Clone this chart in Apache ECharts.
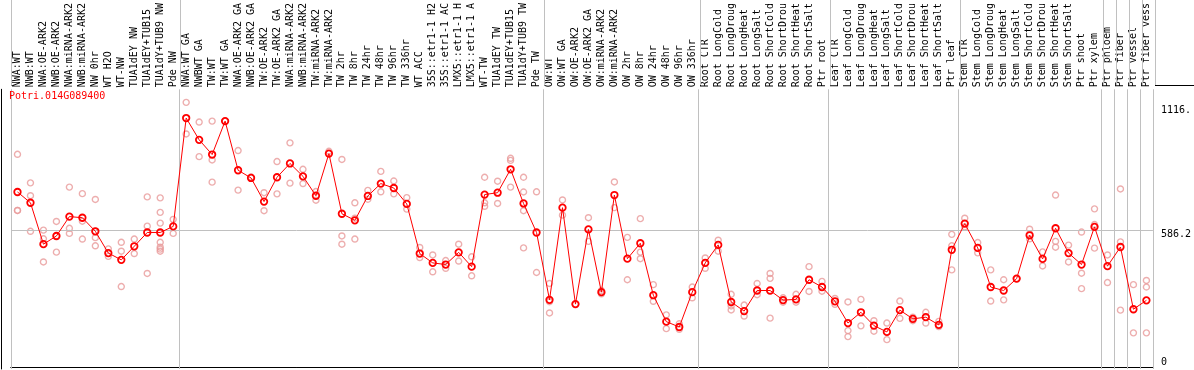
<!DOCTYPE html>
<html><head><meta charset="utf-8">
<script src="https://cdn.jsdelivr.net/npm/echarts@6/dist/echarts.min.js"></script>
<style>html,body{margin:0;padding:0;background:#fff}#c{width:1194px;height:370px}</style>
</head><body><div id="c"></div>
<script>
const geneName = 'Potri.014G089400';
const categories = [
 'NWA:WT','NWB:WT','NWA:OE-ARK2','NWB:OE-ARK2','NWA:miRNA-ARK2','NWB:miRNA-ARK2','NW 0hr','WT H2O','WT-NW','TUA1dEY NW','TUA1dEY+TUB15','TUA1dY+TUB9 NW','Pde NW',
 'NWA:WT GA','NWBWT GA','TW:WT','TW:WT GA','NWA:OE-ARK2 GA','NWB:OE-ARK2 GA','TW:OE-ARK2','TW:OE-ARK2 GA','NWA:miRNA-ARK2','NWB:miRNA-ARK2','TW:miRNA-ARK2','TW:miRNA-ARK2',
 'TW 2hr','TW 8hr','TW 24hr','TW 48hr','TW 96hr','TW 336hr','WT ACC','35S::etr1-1 H2','35S::etr1-1 AC','LMX5::etr1-1 H','LMX5::etr1-1 A','WT-TW','TUA1dEY TW','TUA1dEY+TUB15','TUA1dY+TUB9 TW','Pde TW',
 'OW:WT','OW:WT GA','OW:OE-ARK2','OW:OE-ARK2 GA','OW:miRNA-ARK2','OW:miRNA-ARK2','OW 2hr','OW 8hr','OW 24hr','OW 48hr','OW 96hr','OW 336hr',
 'Root CTR','Root LongCold','Root LongDroug','Root LongHeat','Root LongSalt','Root ShortCold','Root ShortDrou','Root ShortHeat','Root ShortSalt','Ptr root',
 'Leaf CTR','Leaf LongCold','Leaf LongDroug','Leaf LongHeat','Leaf LongSalt','Leaf ShortCold','Leaf ShortDrou','Leaf ShortHeat','Leaf ShortSalt','Ptr leaf',
 'Stem CTR','Stem LongCold','Stem LongDroug','Stem LongHeat','Stem LongSalt','Stem ShortCold','Stem ShortDrou','Stem ShortHeat','Stem ShortSalt','Ptr shoot','Ptr xylem',
 'Ptr phloem','Ptr fiber','Ptr vessel','Ptr fiber vess'
];
const meanValues = [
 748,702,525,560,643,638,580,487,458,516,575,575,601,
 1064,971,908,1051,841,808,707,811,870,815,732,912,655,627,731,784,765,697,485,445,438,490,429,737,745,845,699,575,
 287,681,269,588,320,735,463,529,307,194,171,320,
 445,522,278,239,327,327,286,289,373,342,
 281,188,234,177,150,243,206,213,180,501,
 613,509,342,327,378,563,462,593,487,438,599,
 431,513,247,285
];
const replicateValues = [
 [909,669,669],[787,732,580],[585,548,449],[622,491,560],[769,593,571],[741,623,547],[716,553,518,580],[505,473],[533,495,344],[547,485],[727,602,400],[723,661,615,533,512,504,495],[631,571],
 [1131,996],[1047,899],[1051,885,790],[1051],[925,756],[812],[745,668],[878,740],[958,786],[845,784],[750,713],[922],[887,560,525],[702,636,547],[755,717],[836,749],[795,740],[724,675],[511,468],[479,407],[455,422],[525,453],[471,390],[811,702,687],[794,699],[892,883,769],[811,748,668,509],[749,404],
 [357,279,231],[714,649],[269],[638,537],[327,313],[791,681],[554,373],[634,491,463],[352,281],[223,164],[185,161],[342,296],
 [466,422],[542,495],[311,261,244],[265,218],[357,309],[400,379,209],[296,277],[311,277],[429,323],[366,324],
 [293,268],[278,156,130],[289,176],[198,153],[188,117],[282,208],[213,198],[234,188],[195,173],[567,518,415],
 [636,599],[532,488],[415,282],[373,287],[378],[589,548],[492,432],[735,537,512],[521,449],[577,401,335],[676,609,508],
 [479,361],[761,535,243],[352,146],[370,342,146]
];
const groupBoundaries = [0,13,41,53,63,73,84,85,86,87,88];
const referenceLineValue = 586.2;
const yTickValues = [0, 586.2, 1116];
const yTickLabels = ['0', '586.2', '1116.'];

const repData = [];
replicateValues.forEach((arr, i) => arr.forEach(v => repData.push([i, v])));
const vLines = groupBoundaries.map(b => ({xAxis: b}));

const FONT = 'DejaVu Sans Mono';
const GRAY = '#c0c0c0';
const chart = echarts.init(document.getElementById('c'), null, {renderer: 'canvas'});
chart.setOption({
  animation: false,
  backgroundColor: '#fff',
  title: {text: geneName, left: 9, top: 91, padding: 0,
    textStyle: {color: '#ff0000', fontSize: 10, fontWeight: 'normal', fontFamily: FONT}},
  grid: [
    {left: 11, right: 39, top: 85, bottom: 1, containLabel: false},
    {left: 11, right: 39, top: 0, height: 85, containLabel: false}
  ],
  xAxis: [
    {gridIndex: 0, type: 'category', data: categories, position: 'top', boundaryGap: true,
     axisLine: {show: true, lineStyle: {color: '#000', width: 1}}, axisTick: {show: false},
     splitLine: {show: false},
     axisLabel: {interval: 0, rotate: 90, margin: 2, color: '#000', fontSize: 10, fontFamily: FONT}},
    {gridIndex: 0, type: 'value', min: 0, max: 88, position: 'bottom',
     axisLine: {show: true, lineStyle: {color: '#000', width: 1}}, axisTick: {show: false},
     axisLabel: {show: false}, splitLine: {show: false}},
    {gridIndex: 1, type: 'value', min: 0, max: 88, show: false}
  ],
  yAxis: [
    {gridIndex: 0, type: 'value', min: -8.4, max: 1186.9, position: 'right',
     axisLine: {show: false}, axisTick: {show: false}, splitLine: {show: false},
     axisLabel: {customValues: yTickValues, margin: 8, verticalAlign: 'top', verticalAlignMinLabel: 'bottom',
       color: '#000', fontSize: 10, fontFamily: FONT,
       formatter: v => { const k = yTickValues.indexOf(v); return k >= 0 ? yTickLabels[k] : ''; }}},
    {gridIndex: 0, type: 'value', min: -8.4, max: 1186.9, position: 'left', offset: 10,
     axisLine: {show: true, lineStyle: {color: '#000', width: 1}}, axisTick: {show: false},
     axisLabel: {show: false}, splitLine: {show: false}},
    {gridIndex: 1, type: 'value', min: 0, max: 1, position: 'left', offset: 10,
     axisLine: {show: true, lineStyle: {color: '#000', width: 1}}, axisTick: {show: false},
     axisLabel: {show: false}, splitLine: {show: false}}
  ],
  graphic: [{type: 'line', shape: {x1: 1155, y1: 85.5, x2: 1194, y2: 85.5}, style: {stroke: '#000', lineWidth: 1}, silent: true}],
  series: [
    {type: 'line', xAxisIndex: 1, yAxisIndex: 0, data: [], silent: true,
     markLine: {silent: true, symbol: ['none','none'], label: {show: false}, animation: false,
       lineStyle: {color: GRAY, width: 1, type: 'solid'},
       data: vLines.concat([{yAxis: referenceLineValue}])}},
    {type: 'line', xAxisIndex: 2, yAxisIndex: 2, data: [], silent: true,
     markLine: {silent: true, symbol: ['none','none'], label: {show: false}, animation: false,
       lineStyle: {color: GRAY, width: 1, type: 'solid'}, data: vLines}},
    {type: 'scatter', xAxisIndex: 0, yAxisIndex: 0, data: repData, symbol: 'circle', symbolSize: 6, silent: true,
     itemStyle: {color: 'rgba(0,0,0,0)', borderColor: '#e89a9a', borderWidth: 1.4}},
    {type: 'line', xAxisIndex: 0, yAxisIndex: 0, data: meanValues, symbol: 'circle', symbolSize: 6.5, showSymbol: true, silent: true,
     lineStyle: {color: '#ff0000', width: 1},
     itemStyle: {color: 'rgba(0,0,0,0)', borderColor: '#ff0000', borderWidth: 1.8}, z: 5}
  ]
});
</script></body></html>
